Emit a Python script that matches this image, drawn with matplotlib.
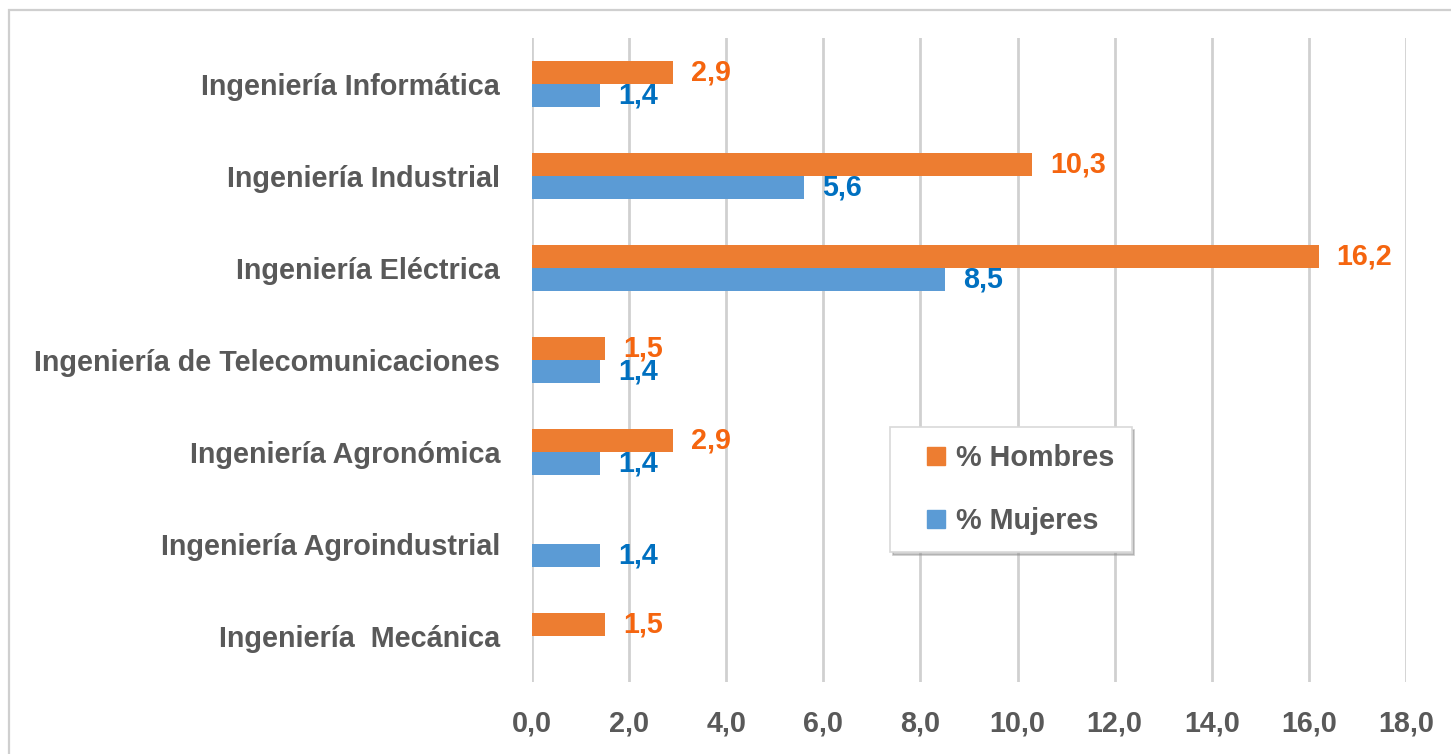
import matplotlib
matplotlib.use("Agg")
import matplotlib.pyplot as plt
from matplotlib.lines import Line2D
from matplotlib.patches import Rectangle
import numpy as np

plt.rcParams['font.family'] = ['Liberation Sans', 'DejaVu Sans']

categorias = [
    "Ingeniería Informática",
    "Ingeniería Industrial",
    "Ingeniería Eléctrica",
    "Ingeniería de Telecomunicaciones",
    "Ingeniería Agronómica",
    "Ingeniería Agroindustrial",
    "Ingeniería  Mecánica",
]
hombres = [2.9, 10.3, 16.2, 1.5, 2.9, 0.0, 1.5]
mujeres = [1.4, 5.6, 8.5, 1.4, 1.4, 1.4, 0.0]
xticks = [0, 2, 4, 6, 8, 10, 12, 14, 16, 18]

c_hom = "#ED7D31"
c_muj = "#5B9BD5"
c_hom_txt = "#F5650F"
c_muj_txt = "#0070C0"
c_txt = "#595959"
c_grid = "#D0D0D0"
fs = 20.7

W, H = 1451, 754
fig = plt.figure(figsize=(W / 100, H / 100), dpi=100)

# chart area frame
fig.patches.append(Rectangle((9 / W, -0.05), 1.2, 1 - 10 / H + 0.05,
                             transform=fig.transFigure, fill=False,
                             edgecolor="#CFCFCF", linewidth=1.6))

ax = fig.add_axes([532 / W, 1 - 682 / H, (1406 - 532) / W, (682 - 38) / H])

y = np.arange(len(categorias))
h = 0.25
ax.barh(y - h / 2, hombres, height=h, color=c_hom, edgecolor="none", zorder=3)
ax.barh(y + h / 2, mujeres, height=h, color=c_muj, edgecolor="none", zorder=3)

for yi, v in zip(y, hombres):
    if v > 0:
        ax.annotate(f"{v:.1f}".replace(".", ","), (v, yi - h / 2),
                    xytext=(13, 0), textcoords="offset points",
                    va="center", ha="left", fontsize=fs, fontweight="bold",
                    color=c_hom_txt)
for yi, v in zip(y, mujeres):
    if v > 0:
        ax.annotate(f"{v:.1f}".replace(".", ","), (v, yi + h / 2),
                    xytext=(13, 0), textcoords="offset points",
                    va="center", ha="left", fontsize=fs, fontweight="bold",
                    color=c_muj_txt)

ax.set_xlim(0, 18)
ax.set_ylim(len(categorias) - 0.5, -0.5)
ax.set_xticks(xticks)
ax.set_xticklabels([f"{t:.1f}".replace(".", ",") for t in xticks])
ax.set_yticks(y)
ax.set_yticklabels(categorias)
ax.tick_params(axis="x", length=0, pad=20, labelsize=fs, labelcolor=c_txt)
ax.tick_params(axis="y", length=0, pad=23, labelsize=fs, labelcolor=c_txt)
for lab in ax.get_xticklabels() + ax.get_yticklabels():
    lab.set_fontweight("bold")

ax.grid(axis="x", color=c_grid, linewidth=2, zorder=0)
ax.set_axisbelow(True)
for s in ax.spines.values():
    s.set_visible(False)

handles = [
    Line2D([], [], linestyle="none", marker="s", markersize=13,
           markerfacecolor=c_hom, markeredgecolor=c_hom),
    Line2D([], [], linestyle="none", marker="s", markersize=13,
           markerfacecolor=c_muj, markeredgecolor=c_muj),
]
leg = fig.legend(handles, ["% Hombres", "% Mujeres"],
                 loc="upper left", bbox_to_anchor=(890 / W, 1 - 427 / H),
                 bbox_transform=fig.transFigure, borderaxespad=0,
                 fancybox=False, shadow={"color": "0.55", "alpha": 0.45},
                 frameon=True, borderpad=0.6, labelspacing=1.2,
                 handlelength=2.0, handletextpad=-0.3,
                 prop={"size": fs, "weight": "bold"})
leg.get_frame().set_edgecolor("#D9D9D9")
leg.get_frame().set_linewidth(1.2)
for t in leg.get_texts():
    t.set_color(c_txt)

fig.savefig("out.png", dpi=100)
